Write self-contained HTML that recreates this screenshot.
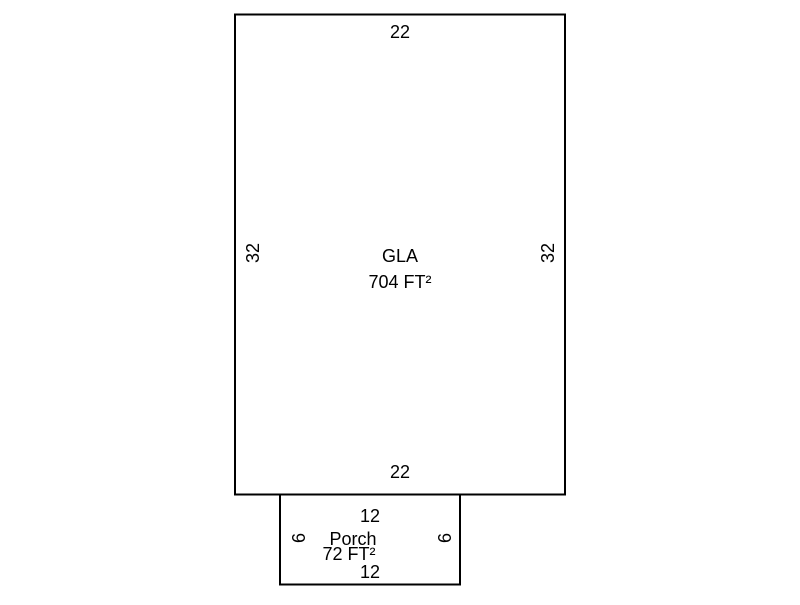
<!DOCTYPE html>
<html><head><style>body{margin:0;background:#fff}</style></head><body>
<svg width="800" height="600" xmlns="http://www.w3.org/2000/svg" font-family="Liberation Sans, Arial, sans-serif" font-size="18" fill="#000">
<rect x="235" y="14.5" width="330" height="480" fill="none" stroke="#000" stroke-width="2"/>
<rect x="280" y="494.5" width="180" height="90" fill="none" stroke="#000" stroke-width="2"/>
<g text-anchor="middle">
<text x="400" y="38">22</text>
<text x="400" y="478">22</text>
<text x="400" y="262">GLA</text>
<text x="400" y="288">704 FT²</text>
<text transform="translate(259,253) rotate(-90)">32</text>
<text transform="translate(554,253) rotate(-90)">32</text>
<text x="370" y="522">12</text>
<text x="353" y="545">Porch</text>
<text x="349" y="560">72 FT²</text>
<text x="370" y="578">12</text>
<text transform="translate(305,538) rotate(-90)">6</text>
<text transform="translate(451,538) rotate(-90)">6</text>
</g>
</svg>
</body></html>
